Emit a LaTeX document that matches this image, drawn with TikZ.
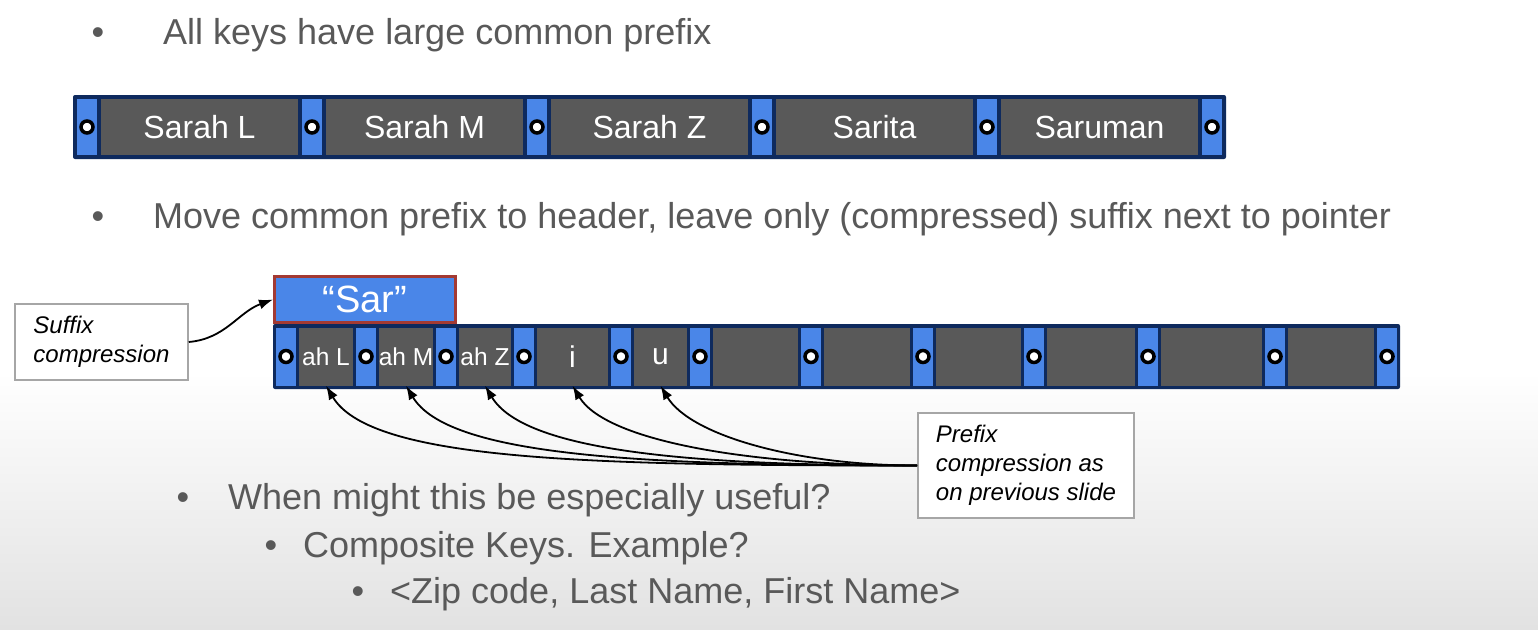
\documentclass[tikz,border=0pt]{standalone}
\usepackage{fontspec}
\setmainfont{Liberation Sans}
\usetikzlibrary{arrows.meta, positioning}
\definecolor{ptrblue}{HTML}{4A86E8}
\definecolor{keygray}{HTML}{595959}
\definecolor{barnavy}{HTML}{0E2A5E}
\definecolor{hdrred}{HTML}{A33A33}
\definecolor{slidetext}{HTML}{595959}
\definecolor{boxline}{HTML}{A6A6A6}
\definecolor{floorgray}{HTML}{E2E2E2}

\tikzset{
  ptrcell/.style={fill=ptrblue, minimum width=20pt, inner sep=0pt},
  keycell/.style={fill=keygray, inner sep=0pt, text=white},
  ptrdot/.style={circle, fill=white, draw=black, line width=3.5pt, minimum size=12pt, inner sep=0pt},
  notebox/.style={draw=boxline, line width=1.5pt, fill=white, align=left, inner xsep=18pt, font=\fontsize{24}{29}\selectfont\itshape},
  bulletdot/.style={anchor=base, inner sep=0pt, text=slidetext, font=\fontsize{36}{43}\selectfont},
  slideline/.style={anchor=base west, inner sep=0pt, text=slidetext, font=\fontsize{36}{43}\selectfont},
  lnk/.style={line width=1.8pt, -{Latex[length=14pt, width=10pt]}}
}

\begin{document}
\begin{tikzpicture}[x=1pt, y=-1pt]
\useasboundingbox (0,0) rectangle (1538,629);
% slide background
\fill[white] (0,0) rectangle (1538,629);
\shade[top color=white, bottom color=floorgray] (0,372) rectangle (1538,629);

% first bullet
\node[bulletdot] (b1) at (98,44) {•};
\node[slideline] (t1) at (163,44) {All keys have large common prefix};

% full keys in the page
\fill[barnavy, rounded corners=2pt] (73,95) rectangle (1226,159);
\foreach \k [count=\i from 0] in {Sarah L, Sarah M, Sarah Z, Sarita, Saruman} {
  \node[ptrcell, minimum height=56pt] (tp\i) at (87+225*\i,127) {};
  \node[ptrdot] (td\i) at (tp\i) {};
  \node[keycell, minimum width=197pt, minimum height=56pt, font=\fontsize{32}{38}\selectfont] (tk\i) at (199.5+225*\i,127) {\k};
}
\node[ptrcell, minimum height=56pt] (tp5) at (1212,127) {};
\node[ptrdot] (td5) at (tp5) {};

% second bullet
\node[bulletdot] (b2) at (98,228) {•};
\node[slideline] (t2) at (153,228) {Move common prefix to header, leave only (compressed) suffix next to pointer};

% header with the common prefix
\node[draw=hdrred, line width=3pt, fill=ptrblue, text=white, minimum width=181pt, minimum height=46pt, inner sep=0pt, font=\fontsize{38}{44}\selectfont] (hdr) at (365,299.5) {“Sar”};

% compressed page
\fill[barnavy, rounded corners=2pt] (273,324) rectangle (1400,389);
\foreach \x [count=\i] in {286,366,446,524,621,700,811,923,1034,1148,1275,1387} {
  \node[ptrcell, minimum height=58pt] (bp\i) at (\x,356.5) {};
  \node[ptrdot] (bd\i) at (bp\i) {};
}
\foreach \a/\b/\k/\fs [count=\i] in {286/366/ah L/24.5, 366/446/ah M/24.5, 446/524/ah Z/24.5, 524/621/i/30, 621/700/u/30,
    700/811//30, 811/923//30, 923/1034//30, 1034/1148//30, 1148/1275//30, 1275/1387//30} {
  \pgfmathsetmacro\w{\b-\a-26}
  \node[keycell, minimum width=\w pt, minimum height=58pt, font=\fontsize{\fs}{\fs}\selectfont] (bk\i) at ({(\a+\b)/2},356.5) {\k};
}

% notes
\node[notebox, minimum width=173pt, minimum height=76pt] (sfx) at (101.5,342) {Suffix\\compression};
\node[notebox, minimum width=216pt, minimum height=105pt] (pfx) at (1026,465.5) {Prefix\\compression as\\on previous slide};

\draw[lnk] (sfx.east) to[out=5, in=200] (hdr.west);
\foreach \i/\c/\d in {1/330/75, 2/280/70, 3/230/65, 4/170/55, 5/120/50}
  \draw[lnk] (pfx.west) .. controls +(-\c,0) and +(0.6*\d,\d) .. (bk\i.south);

% third bullet and sub items
\node[bulletdot] (b3) at (183,509) {•};
\node[slideline] (t3) at (228,509) {When might this be especially useful?};
\node[bulletdot] (b4) at (271,557) {•};
\node[slideline] (t4) at (303,557) {Composite Keys. Example?};
\node[bulletdot] (b5) at (358,603) {•};
\node[slideline] (t5) at (390,603) {<Zip code, Last Name, First Name>};
\end{tikzpicture}
\end{document}
